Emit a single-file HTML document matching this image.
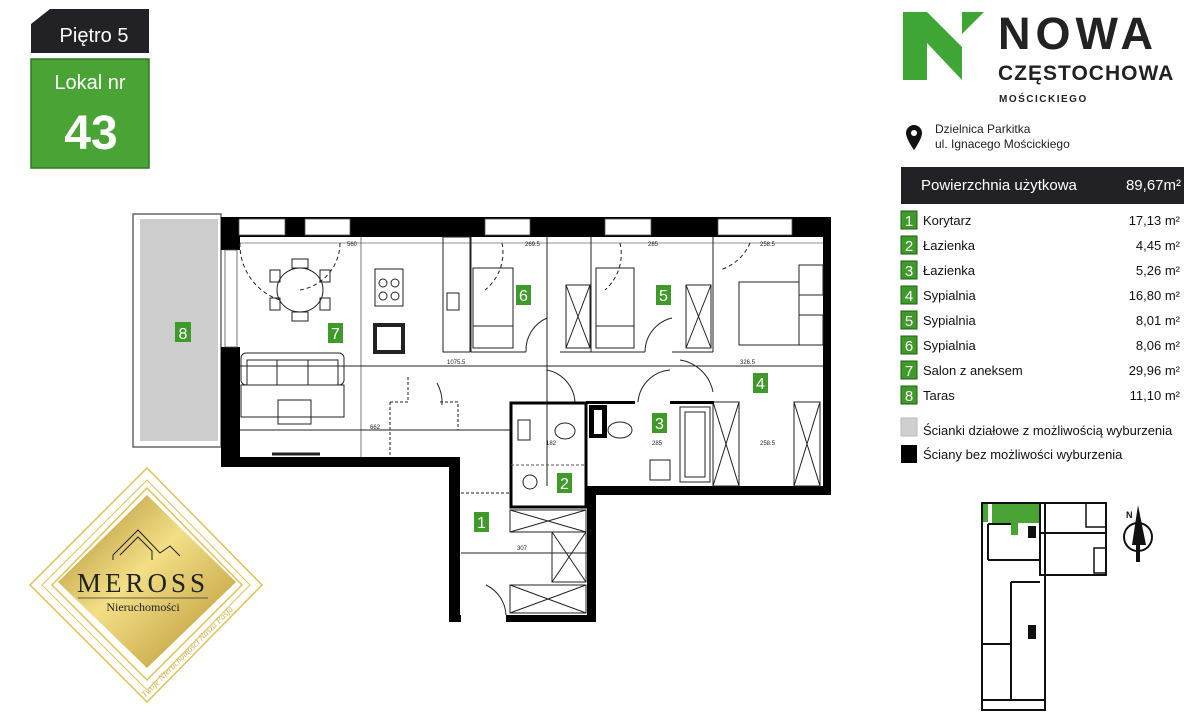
<!DOCTYPE html>
<html><head><meta charset="utf-8"><style>
body{margin:0;background:#fff;}
svg{display:block;font-family:"Liberation Sans",sans-serif;}
</style></head><body>
<svg width="1200" height="718" viewBox="0 0 1200 718" xmlns="http://www.w3.org/2000/svg">
<!-- Top-left badges -->
<polygon points="50,9 149,9 149,53 31,53 31,24" fill="#222226"/>
<text x="94" y="42" font-size="20" fill="#fff" text-anchor="middle">Piętro 5</text>
<rect x="31" y="59" width="118" height="109" fill="#4aa435" stroke="#2d7a22" stroke-width="1.5"/>
<text x="90" y="89" font-size="20" fill="#fff" text-anchor="middle">Lokal nr</text>
<text x="91" y="149" font-size="48" font-weight="bold" fill="#fff" text-anchor="middle">43</text>

<!-- Logo -->
<polygon points="903,12 927,12 962,47 962,80 927,43 927,80 903,80" fill="#3fa535"/>
<polygon points="962,12 984,12 962,34" fill="#3fa535"/>
<text x="998" y="49" font-size="45" font-weight="bold" fill="#222" letter-spacing="5">NOWA</text>
<text x="998" y="80" font-size="21" font-weight="bold" fill="#222" letter-spacing="1">CZĘSTOCHOWA</text>
<text x="999" y="102" font-size="10" font-weight="bold" fill="#222" letter-spacing="1.5">MOŚCICKIEGO</text>
<path d="M914,125 a8,8 0 0 1 8,8 c0,6 -8,17 -8,17 c0,0 -8,-11 -8,-17 a8,8 0 0 1 8,-8z" fill="#111"/>
<circle cx="914" cy="133" r="3" fill="#fff"/>
<text x="935" y="133" font-size="12" fill="#222">Dzielnica Parkitka</text>
<text x="935" y="148" font-size="12" fill="#222">ul. Ignacego Mościckiego</text>

<rect x="901" y="167" width="283" height="37" fill="#222226"/>
<text x="921" y="190" font-size="15" fill="#fff">Powierzchnia użytkowa</text>
<text x="1181" y="190" font-size="15" fill="#fff" text-anchor="end">89,67m²</text>

<g font-size="13" fill="#111">
<g>
<rect x="901" y="211" width="16" height="18" fill="#3f9a2a" stroke="#1e5e14"/><text x="909" y="226" fill="#fff" font-size="15" text-anchor="middle">1</text><text x="923" y="225">Korytarz</text><text x="1180" y="225" text-anchor="end">17,13 m²</text>
<rect x="901" y="236" width="16" height="18" fill="#3f9a2a" stroke="#1e5e14"/><text x="909" y="251" fill="#fff" font-size="15" text-anchor="middle">2</text><text x="923" y="250">Łazienka</text><text x="1180" y="250" text-anchor="end">4,45 m²</text>
<rect x="901" y="261" width="16" height="18" fill="#3f9a2a" stroke="#1e5e14"/><text x="909" y="276" fill="#fff" font-size="15" text-anchor="middle">3</text><text x="923" y="275">Łazienka</text><text x="1180" y="275" text-anchor="end">5,26 m²</text>
<rect x="901" y="286" width="16" height="18" fill="#3f9a2a" stroke="#1e5e14"/><text x="909" y="301" fill="#fff" font-size="15" text-anchor="middle">4</text><text x="923" y="300">Sypialnia</text><text x="1180" y="300" text-anchor="end">16,80 m²</text>
<rect x="901" y="311" width="16" height="18" fill="#3f9a2a" stroke="#1e5e14"/><text x="909" y="326" fill="#fff" font-size="15" text-anchor="middle">5</text><text x="923" y="325">Sypialnia</text><text x="1180" y="325" text-anchor="end">8,01 m²</text>
<rect x="901" y="336" width="16" height="18" fill="#3f9a2a" stroke="#1e5e14"/><text x="909" y="351" fill="#fff" font-size="15" text-anchor="middle">6</text><text x="923" y="350">Sypialnia</text><text x="1180" y="350" text-anchor="end">8,06 m²</text>
<rect x="901" y="361" width="16" height="18" fill="#3f9a2a" stroke="#1e5e14"/><text x="909" y="376" fill="#fff" font-size="15" text-anchor="middle">7</text><text x="923" y="375">Salon z aneksem</text><text x="1180" y="375" text-anchor="end">29,96 m²</text>
<rect x="901" y="386" width="16" height="18" fill="#3f9a2a" stroke="#1e5e14"/><text x="909" y="401" fill="#fff" font-size="15" text-anchor="middle">8</text><text x="923" y="400">Taras</text><text x="1180" y="400" text-anchor="end">11,10 m²</text>
</g>
<rect x="901" y="418" width="16" height="18" fill="#cfcfcf" stroke="#bbb"/><text x="923" y="435">Ścianki działowe z możliwością wyburzenia</text>
<rect x="901" y="445" width="16" height="18" fill="#000"/><text x="923" y="459">Ściany bez możliwości wyburzenia</text>
</g>

<!-- Minimap -->
<g fill="none" stroke="#111" stroke-width="2">
<rect x="982" y="503" width="63" height="207"/>
<rect x="1040" y="503" width="66" height="72"/>
<line x1="1040" y1="533" x2="1106" y2="533"/>
<line x1="1011" y1="582" x2="1040" y2="582"/>
<line x1="1011" y1="582" x2="1011" y2="700"/>
<line x1="982" y1="644" x2="1011" y2="644"/>
<line x1="982" y1="700" x2="1045" y2="700"/>
<line x1="988" y1="524" x2="1011" y2="524"/>
<line x1="988" y1="524" x2="988" y2="560"/>
<line x1="988" y1="560" x2="1040" y2="560"/>
<rect x="1086" y="503" width="20" height="24" stroke-width="1.5"/>
<rect x="1094" y="548" width="12" height="25" stroke-width="1.5"/>
</g>
<rect x="983" y="504" width="5" height="18" fill="#4aa435"/>
<polygon points="992,504 1039,504 1039,523 1018,523 1018,535 1011,535 1011,523 992,523" fill="#4aa435"/>
<rect x="1028" y="526" width="8" height="12" fill="#111"/>
<rect x="1028" y="625" width="8" height="14" fill="#111"/>
<circle cx="1138" cy="537" r="14" fill="none" stroke="#111" stroke-width="2"/>
<polygon points="1138,505 1146,545 1140,545 1140,562 1136,562 1136,545 1132,545" fill="#111"/>
<text x="1126" y="518" font-size="9" font-weight="bold" fill="#111">N</text>

<!-- Meross logo -->
<g fill="none" stroke="#e2c158" stroke-width="1.5">
<polygon points="147,468 262,585 147,702 30,585" />
<polygon points="147,480 250,585 147,690 42,585" stroke-width="1"/>
<polygon points="147,488 242,585 147,680 52,585" />
</g>
<defs><linearGradient id="g" x1="0" y1="0" x2="1" y2="1">
<stop offset="0" stop-color="#a9862a"/><stop offset="0.45" stop-color="#f3df86"/><stop offset="1" stop-color="#b38f2d"/></linearGradient></defs>
<polygon points="147,495 236,582 147,668 58,582" fill="url(#g)"/>
<path d="M113,555 L138,530 L160,553 L170,546 L180,556 M120,555 L138,537 L152,551 L152,560 M113,555 L113,560" fill="none" stroke="#222" stroke-width="1"/>
<text x="143" y="592" font-size="27" font-family="Liberation Serif,serif" fill="#222" text-anchor="middle" letter-spacing="4">MEROSS</text>
<line x1="78" y1="598" x2="208" y2="598" stroke="#333" stroke-width="0.8"/>
<text x="143" y="611" font-size="12" font-family="Liberation Serif,serif" fill="#222" text-anchor="middle">Nieruchomości</text>
<text x="0" y="0" font-size="9" font-family="Liberation Serif,serif" font-style="italic" fill="#d5b050" transform="translate(145,698) rotate(-45)">Twoje Nieruchomości Nasza Pasja</text>

<!-- Floor plan -->
<rect x="133" y="214" width="88" height="233" fill="#fff" stroke="#666" stroke-width="1.5"/>
<rect x="140" y="219" width="78" height="222" fill="#cdcdcd"/>
<rect x="175" y="322" width="16" height="20" fill="#3f9a2a"/><text x="183" y="339" font-size="16" fill="#fff" text-anchor="middle">8</text>

<g fill="#000">
<rect x="221" y="217" width="610" height="20"/>
<rect x="221" y="217" width="19" height="33"/>
<rect x="221" y="347" width="19" height="120"/>
<rect x="823" y="217" width="8" height="278"/>
<rect x="221" y="457" width="239" height="10"/>
<rect x="449" y="457" width="11" height="165"/>
<rect x="506" y="615" width="90" height="7"/>
<rect x="449" y="615" width="12" height="7"/>
<rect x="587" y="486" width="9" height="136"/>
<rect x="587" y="486" width="244" height="9"/>
</g>
<g fill="#fff" stroke="#555" stroke-width="0.8">
<rect x="239" y="219" width="46" height="16"/>
<rect x="305" y="219" width="45" height="16"/>
<rect x="485" y="219" width="45" height="16"/>
<rect x="605" y="219" width="46" height="16"/>
<rect x="718" y="219" width="74" height="16"/>
<rect x="225" y="250" width="12" height="97"/>
</g>

<g fill="none" stroke="#222" stroke-width="1">
<line x1="240" y1="366" x2="823" y2="366"/>
<line x1="240" y1="430" x2="510" y2="430"/>
<line x1="240" y1="243" x2="823" y2="243" stroke-width="0.6"/>
<line x1="361" y1="237" x2="361" y2="457" stroke-width="0.6"/>
<line x1="471" y1="237" x2="471" y2="352"/>
<line x1="547" y1="237" x2="547" y2="486"/>
<line x1="591" y1="237" x2="591" y2="352"/>
<line x1="713" y1="237" x2="713" y2="352"/>
<line x1="471" y1="352" x2="526" y2="352"/>
<line x1="560" y1="352" x2="645" y2="352"/>
<line x1="672" y1="352" x2="713" y2="352"/>
<path d="M240,243 A58,58 0 0 0 280,300" stroke-dasharray="4,3"/>
<path d="M340,243 A48,48 0 0 1 300,290" stroke-dasharray="4,3"/>
<path d="M526,352 A35,35 0 0 1 547,318"/>
<path d="M645,352 A35,35 0 0 1 672,318"/>
<path d="M437,383 A40,40 0 0 1 442,405"/>
<path d="M502,243 A48,48 0 0 1 485,290" stroke-dasharray="4,3"/>
<path d="M620,243 A48,48 0 0 1 605,290" stroke-dasharray="4,3"/>
<path d="M750,243 A48,48 0 0 1 720,270" stroke-dasharray="4,3"/>
<path d="M547,370 A35,35 0 0 1 575,402"/>
<path d="M638,402 A35,35 0 0 1 670,370"/>
<path d="M680,360 A40,40 0 0 1 713,392"/>
<path d="M486,585 A35,35 0 0 1 506,615"/>
<ellipse cx="300" cy="290" rx="23" ry="22"/>
<rect x="292" y="259" width="16" height="9"/><rect x="292" y="312" width="16" height="9"/>
<rect x="270" y="270" width="10" height="12"/><rect x="320" y="270" width="10" height="12"/>
<rect x="270" y="298" width="10" height="12"/><rect x="320" y="298" width="10" height="12"/>
<rect x="241" y="353" width="103" height="32" rx="5"/>
<rect x="247" y="360" width="91" height="25"/>
<line x1="277" y1="360" x2="277" y2="385"/><line x1="308" y1="360" x2="308" y2="385"/>
<rect x="241" y="385" width="103" height="32"/>
<rect x="278" y="400" width="33" height="24"/>
<line x1="272" y1="454" x2="320" y2="454" stroke-width="3"/>
<rect x="375" y="269" width="28" height="37"/>
<circle cx="383" cy="283" r="4"/><circle cx="395" cy="283" r="4"/><circle cx="383" cy="296" r="4"/><circle cx="395" cy="296" r="4"/>
<rect x="375" y="325" width="28" height="27" stroke-width="4"/>
<rect x="443" y="237" width="27" height="115"/>
<rect x="447" y="293" width="12" height="17"/>
<rect x="473" y="268" width="40" height="80"/><line x1="473" y1="326" x2="513" y2="326"/>
<rect x="596" y="268" width="38" height="80"/><line x1="596" y1="326" x2="634" y2="326"/>
<rect x="739" y="282" width="60" height="63"/>
<rect x="799" y="265" width="24" height="30"/><rect x="799" y="315" width="24" height="30"/>
<rect x="566" y="285" width="24" height="63"/><path d="M566,285 L590,348 M590,285 L566,348"/>
<rect x="686" y="285" width="25" height="63"/><path d="M686,285 L711,348 M711,285 L686,348"/>
<rect x="713" y="402" width="26" height="84"/><path d="M713,402 L739,486 M739,402 L713,486"/>
<rect x="794" y="402" width="26" height="84"/><path d="M794,402 L820,486 M820,402 L794,486"/>
<rect x="510" y="510" width="76" height="22"/><path d="M510,510 L586,532 M586,510 L510,532"/>
<rect x="552" y="532" width="34" height="50"/><path d="M552,532 L586,582 M586,532 L552,582"/>
<rect x="510" y="585" width="76" height="28"/><path d="M510,585 L586,613 M586,585 L510,613"/>
<line x1="461" y1="553" x2="587" y2="553"/>
<line x1="461" y1="493" x2="510" y2="493" stroke-dasharray="3,2"/>
<path d="M390,402 L390,457 M390,402 L408,402 L408,375 M440,402 L458,402 L458,430" stroke-dasharray="3,2"/>
<rect x="680" y="407" width="30" height="75"/>
<rect x="685" y="412" width="20" height="65"/>
<rect x="650" y="460" width="20" height="20"/>
<ellipse cx="620" cy="430" rx="12" ry="8"/>
<ellipse cx="565" cy="431" rx="10" ry="8"/>
<rect x="518" y="420" width="12" height="20"/>
<circle cx="530" cy="482" r="7"/>
</g>
<rect x="511" y="403" width="75" height="104" fill="none" stroke="#000" stroke-width="3"/>
<line x1="511" y1="465" x2="586" y2="465" stroke="#555" stroke-dasharray="3,2"/>
<g fill="#000">
<rect x="586" y="401" width="49" height="3"/>
<rect x="670" y="401" width="44" height="3"/>
<rect x="589" y="405" width="18" height="33"/>
</g>
<rect x="594" y="410" width="8" height="24" fill="#fff"/>

<g font-size="16" fill="#fff" text-anchor="middle">
<rect x="328" y="323" width="15" height="20" fill="#3f9a2a"/><text x="335.5" y="339">7</text>
<rect x="516" y="285" width="15" height="20" fill="#3f9a2a"/><text x="523.5" y="301">6</text>
<rect x="656" y="285" width="15" height="20" fill="#3f9a2a"/><text x="663.5" y="301">5</text>
<rect x="753" y="373" width="15" height="20" fill="#3f9a2a"/><text x="760.5" y="389">4</text>
<rect x="652" y="413" width="15" height="20" fill="#3f9a2a"/><text x="659.5" y="429">3</text>
<rect x="557" y="473" width="15" height="20" fill="#3f9a2a"/><text x="564.5" y="489">2</text>
<rect x="474" y="512" width="15" height="20" fill="#3f9a2a"/><text x="481.5" y="528">1</text>
</g>
<g font-size="6" fill="#222">
<text x="347" y="246">560</text><text x="525" y="246">269.5</text><text x="648" y="246">285</text><text x="760" y="246">258.5</text>
<text x="447" y="364">1075.5</text><text x="740" y="364">326.5</text><text x="370" y="429">662</text>
<text x="546" y="445">182</text><text x="652" y="445">285</text><text x="760" y="445">258.5</text><text x="517" y="550">307</text>
</g>
</svg>
</body></html>
